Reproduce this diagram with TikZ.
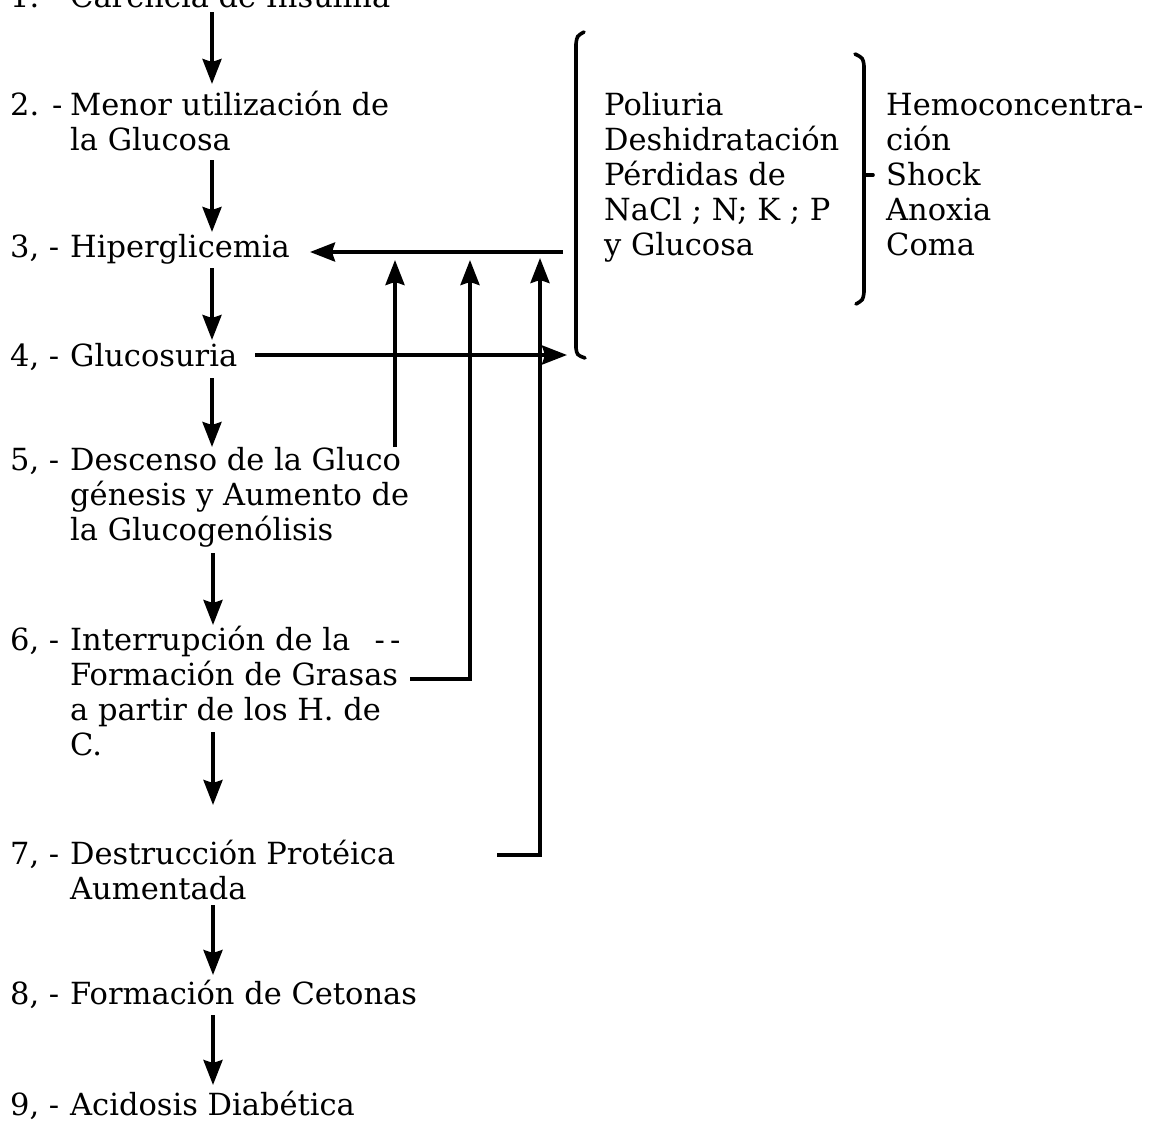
\documentclass[tikz,border=0pt]{standalone}
\usepackage{fontspec}
\setmainfont{DejaVu Serif}
\usetikzlibrary{arrows.meta}
\begin{document}
\begin{tikzpicture}[x=1pt,y=-1pt,
  txt/.style={anchor=base west, inner sep=0pt, font=\fontsize{30.5}{35}\selectfont},
  arr/.style={line width=3.6pt, -{Stealth[length=25pt,width=19pt,inset=3pt]}},
  ln/.style={line width=3.6pt, line cap=round}]
\useasboundingbox (0,0) rectangle (1153,1122);
% numbers
\node[txt] (n1) at (10,7) {1. -};
\node[txt] (n2) at (10,115) {2. -};
\node[txt] (n3) at (10,257) {3, -};
\node[txt] (n4) at (10,366) {4, -};
\node[txt] (n5) at (10,470) {5, -};
\node[txt] (n6) at (10,650) {6, -};
\node[txt] (n7) at (10,864) {7, -};
\node[txt] (n8) at (10,1004) {8, -};
\node[txt] (n9) at (10,1115) {9, -};
% texts
\node[txt] (t1) at (70,7) {Carencia de Insulina};
\node[txt] (t2) at (70,115) {\vtop{\hbox{Menor utilización de}\hbox{la Glucosa}}};
\node[txt] (t3) at (70,257) {Hiperglicemia};
\node[txt] (t4) at (70,366) {Glucosuria};
\node[txt] (t5) at (70,470) {\vtop{\hbox{Descenso de la Gluco}\hbox{génesis y Aumento de}\hbox{la Glucogenólisis}}};
\node[txt] (t6) at (70,650) {\vtop{\hbox{Interrupción de la\hspace{0.8em}-\,-}\hbox{Formación de Grasas}\hbox{a partir de los H. de}\hbox{C.}}};
\node[txt] (t7) at (70,864) {\vtop{\hbox{Destrucción Protéica}\hbox{Aumentada}}};
\node[txt] (t8) at (70,1004) {Formación de Cetonas};
\node[txt] (t9) at (70,1115) {Acidosis Diabética};
\node[txt] (b1) at (604,115) {\vtop{\hbox{Poliuria}\hbox{Deshidratación}\hbox{Pérdidas de}\hbox{NaCl ; N; K ; P}\hbox{y Glucosa}}};
\node[txt] (b2) at (886,115) {\vtop{\hbox{Hemoconcentra-}\hbox{ción}\hbox{Shock}\hbox{Anoxia}\hbox{Coma}}};
% coordinates
\coordinate (a1s) at (212,12);   \coordinate (a1e) at (212,84);
\coordinate (a2s) at (212,160);  \coordinate (a2e) at (212,232);
\coordinate (a3s) at (212,268);  \coordinate (a3e) at (212,340);
\coordinate (a4s) at (212,378);  \coordinate (a4e) at (212,447);
\coordinate (a5s) at (213,553);  \coordinate (a5e) at (213,625);
\coordinate (a6s) at (213,732);  \coordinate (a6e) at (213,805);
\coordinate (a7s) at (213,905);  \coordinate (a7e) at (213,975);
\coordinate (a8s) at (213,1015); \coordinate (a8e) at (213,1085);
\coordinate (h3s) at (563,252);  \coordinate (h3e) at (310,252);
\coordinate (h4s) at (255,355);  \coordinate (h4e) at (567,355);
\coordinate (u5s) at (395,447);  \coordinate (u5e) at (395,260);
\coordinate (u6s) at (410,679);  \coordinate (u6b) at (470,679); \coordinate (u6e) at (470,260);
\coordinate (u7s) at (497,855);  \coordinate (u7b) at (540,855); \coordinate (u7e) at (540,258);
% main chain
\foreach \i in {1,...,8} \draw[arr] (a\i s) -- (a\i e);
\draw[arr] (h3s) -- (h3e);
\draw[arr] (h4s) -- (h4e);
\draw[arr] (u5s) -- (u5e);
\draw[arr] (u6s) -- (u6b) -- (u6e);
\draw[arr] (u7s) -- (u7b) -- (u7e);
% brackets
\draw[ln] (584,32) .. controls (577,36) .. (576,44) -- (576,348) .. controls (577,355) .. (585,358);
\draw[ln] (855,54) .. controls (863,58) .. (864,66) -- (864,292) .. controls (863,300) .. (856,304);
\draw[ln] (864,175) -- (873,175);
\end{tikzpicture}
\end{document}
